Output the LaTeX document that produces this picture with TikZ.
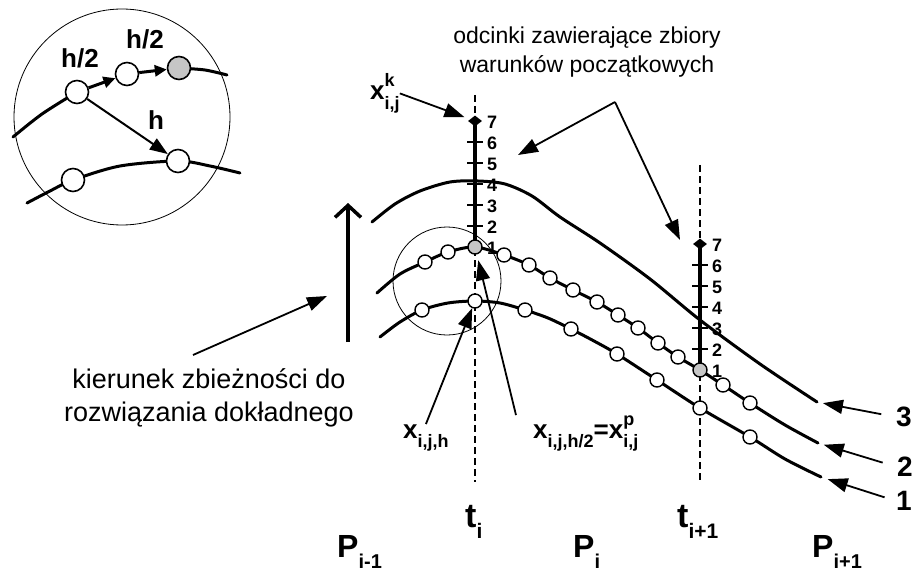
\documentclass[tikz,border=0pt]{standalone}
\usepackage{fontspec}
\setmainfont{Liberation Sans}
\usetikzlibrary{arrows.meta, positioning, shapes.geometric, calc}
\newcommand{\lowtx}[2][18]{\raisebox{-.35em}{\fontsize{#1}{#1}\selectfont #2}}
\newcommand{\hightx}[2][18]{\raisebox{.5em}{\fontsize{#1}{#1}\selectfont #2}}
\newcommand{\bothtx}[2]{\makebox[0pt][l]{\hightx{#1}}\lowtx{#2}}
\tikzset{
    curve/.style={line width=3pt, line join=round, line cap=round},
    ring/.style={line width=0.8pt},
    pt/.style={circle, draw, line width=1.4pt, fill=white,
        minimum size=14pt, inner sep=0pt},
    ptgray/.style={pt, fill=gray!45},
    bigpt/.style={pt, minimum size=23pt, line width=1.6pt},
    pointer/.style={-{Triangle[length=20pt,width=14pt]}, line width=1.8pt},
    hop/.style={-{Triangle[length=12pt,width=11pt]}, line width=3pt},
    timeline/.style={dash pattern=on 7pt off 4pt, line width=1.3pt},
    scalebar/.style={line width=3.5pt},
    tickmark/.style={line width=2pt},
    num/.style={font=\fontsize{18}{18}\selectfont\bfseries, anchor=west, inner sep=0pt},
    note/.style={align=center, inner sep=0pt},
    sym/.style={font=\fontsize{26}{26}\selectfont\bfseries, inner sep=0pt, anchor=base west},
    big/.style={font=\fontsize{32}{32}\selectfont\bfseries, inner sep=0pt, anchor=base west},
    tlabel/.style={font=\fontsize{34}{34}\selectfont\bfseries, inner sep=0pt, anchor=base west},
    halfstep/.style={font=\fontsize{26}{26}\selectfont\bfseries, inner sep=0pt, anchor=base west},
    curvenum/.style={font=\fontsize{28}{28}\selectfont\bfseries, inner sep=0pt}
}
\begin{document}
\begin{tikzpicture}[x=1pt, y=-1pt]
\useasboundingbox (0,0) rectangle (912,572);

% inset: one step h against two steps h/2
\draw[ring] (122,117) circle (108);
\draw[curve] plot[smooth] coordinates {(13,137) (42,114) (77,92)};
\draw[curve] plot[smooth] coordinates {(179,68) (205,70) (227,75)};
\draw[curve] plot[smooth] coordinates {(27,203) (50,191) (73,180) (120,166) (178,161) (210,166) (240,173)};
\node[bigpt] (A) at (77,92) {};
\node[bigpt] (B) at (127,74) {};
\node[bigpt, fill=gray!45] (C) at (179,68) {};
\node[bigpt] (D) at (73,180) {};
\node[bigpt] (E) at (178,161) {};
\draw[hop] (A) -- (B);
\draw[hop] (B) -- (C);
\draw[-{Triangle[length=18pt,width=13pt]}, line width=2pt] (A) -- (E);
\node[halfstep] (h1) at (61,68) {h/2};
\node[halfstep] (h2) at (126,49) {h/2};
\node[halfstep] (h3) at (148,130) {h};

% time lines
\draw[timeline] (475,95) -- (475,482);
\draw[timeline] (700,165) -- (700,482);

% zoom ring
\draw[ring] (447,281) circle (54);

% solutions 3, 2, 1
\draw[curve] plot[smooth, tension=0.5] coordinates {(372,222) (395,204) (420,191) (450,182) (478,181) (505,184) (532,196) (560,217) (600,243) (650,279) (700,320) (760,364) (817,402)};
\draw[curve] plot[smooth, tension=0.5] coordinates {(377,293) (400,274) (425,262) (448,252) (475,247) (504,255) (529,265) (550,278) (573,290) (597,302) (618,315) (638,328) (658,343) (678,357) (700,370) (723,385) (750,403) (785,425) (818,443)};
\draw[curve] plot[smooth, tension=0.5] coordinates {(380,337) (400,322) (422,310) (448,303) (475,301) (500,303) (525,310) (548,318) (571,329) (594,341) (617,354) (657,380) (700,408) (750,437) (785,459) (821,477)};
\coordinate (e3) at (817,402);
\coordinate (e2) at (818,443);
\coordinate (e1) at (821,477);

% sets of initial conditions
\draw[scalebar] (475,121) -- (475,247);
\draw[scalebar] (700,244) -- (700,370);
\foreach \k in {2,...,6} {
    \draw[tickmark] (467,{247-(\k-1)*21}) -- (483,{247-(\k-1)*21});
    \draw[tickmark] (692,{370-(\k-1)*21}) -- (708,{370-(\k-1)*21});
}
\foreach \k in {1,...,7} {
    \node[num] (na\k) at (487,{248-(\k-1)*21}) {\k};
    \node[num] (nb\k) at (712,{371-(\k-1)*21}) {\k};
}
\node[diamond, fill, inner sep=0pt, minimum width=14pt, minimum height=11pt] (d1) at (475,121) {};
\node[diamond, fill, inner sep=0pt, minimum width=14pt, minimum height=11pt] (d2) at (700,244) {};

% points of the solutions
\foreach \x/\y [count=\n] in {425/262, 448/252, 504/255, 529/265, 550/278, 573/290, 597/302, 618/315, 638/328, 658/343, 678/357, 723/385, 750/403}
    \node[pt] (m\n) at (\x,\y) {};
\foreach \x/\y [count=\n] in {422/310, 475/301, 525/310, 571/329, 617/354, 657/380, 700/408, 750/437}
    \node[pt] (b\n) at (\x,\y) {};
\node[ptgray] (g1) at (475,247) {};
\node[ptgray] (g2) at (700,370) {};

% labels
\node[note, font=\fontsize{23}{29}\selectfont] (odc) at (587,52) {odcinki zawierające zbiory\\warunków początkowych};
\coordinate (split) at (615,102);
\coordinate (tipa) at (518,155);
\coordinate (tipb) at (680,240);
\draw[pointer] (split) -- (tipa);
\draw[pointer] (split) -- (tipb);

\node[sym] (xk) at (370,100) {x\bothtx{k}{i,j}};
\draw[pointer, shorten >=6pt] (xk.east) -- (d1);

\node[note, font=\fontsize{27}{33}\selectfont] (kier) at (209,398) {kierunek zbieżności do\\rozwiązania dokładnego};
\coordinate (kfoot) at (193,355);
\coordinate (ktip) at (327,296);
\draw[pointer] (kfoot) -- (ktip);
\coordinate (cbot) at (348,342);
\coordinate (ctop) at (348,203);
\draw[-{Straight Barb[length=12pt,width=26pt]}, line width=3.5pt] (cbot) -- (ctop);

\node[sym] (xh) at (403,438) {x\lowtx{i,j,h}};
\draw[pointer] (xh.north) -- (b2);
\node[sym] (xp) at (533,438) {x\lowtx{i,j,h/2}=x\bothtx{p}{i,j}};
\draw[pointer, shorten >=6pt] ([xshift=-17pt]xp.north west) -- (g1);

\node[tlabel] (ti) at (465,527) {t\lowtx[21]{i}};
\node[tlabel] (tj) at (677,527) {t\lowtx[21]{i+1}};
\node[big] (pa) at (337,557) {P\lowtx[20]{i-1}};
\node[big] (pb) at (573,557) {P\lowtx[20]{i}};
\node[big] (pc) at (812,557) {P\lowtx[20]{i+1}};

\node[curvenum] (l3) at (904,417) {3};
\node[curvenum] (l2) at (905,467) {2};
\node[curvenum] (l1) at (904,501) {1};
\draw[pointer, shorten <=15pt, shorten >=6pt] (l3.west) -- (e3);
\draw[pointer, shorten <=15pt, shorten >=6pt] (l2.west) -- (e2);
\draw[pointer, shorten <=12pt, shorten >=7pt] (l1.west) -- (e1);
\end{tikzpicture}
\end{document}
